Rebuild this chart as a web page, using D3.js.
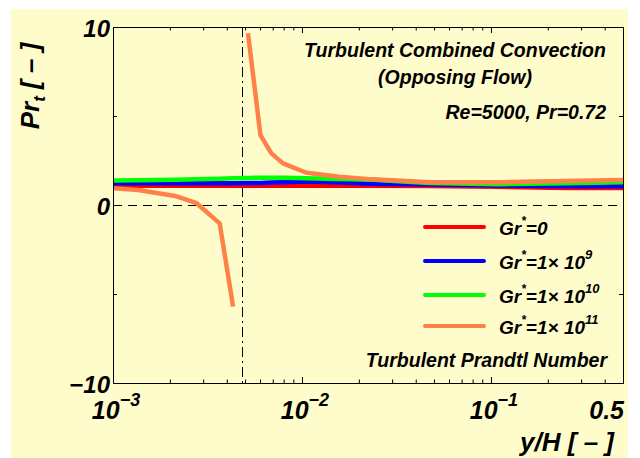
<!DOCTYPE html>
<html>
<head>
<meta charset="utf-8">
<script src="https://cdn.jsdelivr.net/npm/d3@7"></script>
<style>
  body { margin: 0; background: #fff; }
  text { font-family: "Liberation Sans", Arial, sans-serif; font-weight: bold; font-style: italic; fill: #000; }
</style>
</head>
<body>
<svg id="chart" width="640" height="458"></svg>
<script>
// wall distance y/H, shared by all four series
const yH = [0.001, 0.00136, 0.00213, 0.00277, 0.00367, 0.00432, 0.00518, 0.00603, 0.00689, 0.00794, 0.01055, 0.0158, 0.0236, 0.0473, 0.11, 0.25, 0.5];
// turbulent Prandtl number for each Gr*
const prGr0 = [1.08, 1.08, 1.08, 1.08, 1.08, 1.08, 1.08, 1.08, 1.08, 1.08, 1.08, 1.08, 1.08, 1.07, 1.02, 0.95, 0.95];
const prGr9 = [1.22, 1.22, 1.22, 1.22, 1.22, 1.22, 1.23, 1.24, 1.26, 1.28, 1.32, 1.27, 1.2, 1.15, 1.1, 1.06, 1.06];
const prGr10 = [1.37, 1.39, 1.42, 1.45, 1.48, 1.5, 1.52, 1.53, 1.53, 1.53, 1.5, 1.46, 1.42, 1.24, 1.17, 1.22, 1.28];
const prGr11 = [0.94, 0.84, 0.51, 0.1, -1.03, -5.71, 9.65, 3.93, 2.9, 2.34, 1.81, 1.59, 1.44, 1.28, 1.28, 1.35, 1.4];
// Gr*=1e11 jumps across a pole after this index
const poleIndex = 5;
const poleYH = 0.0048;

const seriesNames = ["0", "9", "10", "11"];
const seriesColors = ["#ff0000", "#0000ff", "#00ff00", "#ff8048"];
const seriesValues = [prGr0, prGr9, prGr10, prGr11];

const xMajor = [0.001, 0.01, 0.1];
const xMajorExp = ["\u22123", "\u22122", "\u22121"];
const yMajor = [10, 0, -10];
const yMajorLabels = ["10", "0", "\u221210"];
const yMinor = [5, -5];

var svg = d3.select("#chart");

// yellow panel behind the chart
svg.append("rect")
  .attr("x", 11).attr("y", 9)
  .attr("width", 617).attr("height", 449)
  .attr("fill", "#fffccc");

var xScale = d3.scaleLog().domain([0.001, 0.5]).range([113, 623]);
var yScale = d3.scaleLinear().domain([-10, 10]).range([383, 27]);

// minor ticks on the log axis: 2..9 of every decade
var xMinor = [];
[0.001, 0.01, 0.1].forEach(function (d) {
  for (let k = 2; k <= 9; k++) {
    if (d * k < 0.5) xMinor.push(d * k);
  }
});

svg.append("defs").append("clipPath").attr("id", "plotClip")
  .append("rect")
  .attr("x", 113).attr("y", 27)
  .attr("width", 510).attr("height", 356);

// reference lines, kept on the pixel grid so they stay sharp
var zeroY = Math.round(yScale(0)) + 0.5;
var poleX = Math.round(xScale(poleYH)) + 0.5;
svg.append("line")
  .attr("x1", 113).attr("x2", 623)
  .attr("y1", zeroY).attr("y2", zeroY)
  .attr("stroke", "#000").attr("stroke-width", 1)
  .attr("stroke-dasharray", "9,6");
svg.append("line")
  .attr("x1", poleX).attr("x2", poleX)
  .attr("y1", 27).attr("y2", 383)
  .attr("stroke", "#000").attr("stroke-width", 1)
  .attr("stroke-dasharray", "10,4,2,4");

// curves
var line = d3.line()
  .x(function (d) { return xScale(d.x); })
  .y(function (d) { return yScale(d.y); });

var curves = svg.append("g").attr("clip-path", "url(#plotClip)");
seriesValues.forEach(function (vals, s) {
  let pts = yH.map(function (x, i) { return { x: x, y: vals[i] }; });
  let parts = s === 3 ? [pts.slice(0, poleIndex + 1), pts.slice(poleIndex + 1)] : [pts];
  parts.forEach(function (p) {
    curves.append("path")
      .attr("d", line(p))
      .attr("fill", "none")
      .attr("stroke", seriesColors[s])
      .attr("stroke-width", 4.5)
      .attr("stroke-linejoin", "round");
  });
});

// frame with inward ticks
var bottomAxis = svg.append("g").attr("transform", "translate(0,383)");
bottomAxis.call(d3.axisBottom(xScale).tickValues(xMajor).tickSize(-6).tickFormat("").tickSizeOuter(0));
bottomAxis.append("g").call(d3.axisBottom(xScale).tickValues(xMinor).tickSize(-3.5).tickFormat("").tickSizeOuter(0));
var topAxis = svg.append("g").attr("transform", "translate(0,27)");
topAxis.call(d3.axisTop(xScale).tickValues(xMajor).tickSize(-6).tickFormat("").tickSizeOuter(0));
topAxis.append("g").call(d3.axisTop(xScale).tickValues(xMinor).tickSize(-3.5).tickFormat("").tickSizeOuter(0));
var leftAxis = svg.append("g").attr("transform", "translate(113,0)");
leftAxis.call(d3.axisLeft(yScale).tickValues(yMinor).tickSize(-4).tickFormat("").tickSizeOuter(0));
var rightAxis = svg.append("g").attr("transform", "translate(623,0)");
rightAxis.call(d3.axisRight(yScale).tickValues(yMinor).tickSize(-4).tickFormat("").tickSizeOuter(0));
svg.selectAll(".domain").attr("stroke", "#000").attr("stroke-width", 1);
svg.selectAll(".tick line").attr("stroke", "#000");

// y tick labels
yMajor.forEach(function (v, i) {
  svg.append("text")
    .attr("x", 110).attr("y", yScale(v) + 10)
    .attr("text-anchor", "end")
    .attr("font-size", "24px")
    .text(yMajorLabels[i]);
});

// x tick labels, powers of ten
xMajor.forEach(function (v, i) {
  let t = svg.append("text")
    .attr("x", xScale(v) + 3).attr("y", 419)
    .attr("text-anchor", "middle")
    .attr("font-size", "25px");
  t.append("tspan").text("10");
  t.append("tspan").attr("dy", -13).attr("font-size", "18px").text(xMajorExp[i]);
});
svg.append("text")
  .attr("x", 624).attr("y", 419)
  .attr("text-anchor", "end")
  .attr("font-size", "25px")
  .text("0.5");

// axis titles
svg.append("text")
  .attr("x", 614).attr("y", 451)
  .attr("text-anchor", "end")
  .attr("font-size", "26px")
  .text("y/H [ \u2013 ]");

var yTitle = svg.append("text")
  .attr("transform", "translate(39,86) rotate(-90)")
  .attr("text-anchor", "middle")
  .attr("font-size", "26px");
yTitle.append("tspan").text("Pr");
yTitle.append("tspan").attr("dy", 6).attr("font-size", "17px").text("t");
yTitle.append("tspan").attr("dy", -6).text(" [ \u2013 ]");

// annotations
svg.append("text").attr("x", 455).attr("y", 57)
  .attr("text-anchor", "middle").attr("font-size", "19.5px")
  .text("Turbulent Combined Convection");
svg.append("text").attr("x", 455).attr("y", 84)
  .attr("text-anchor", "middle").attr("font-size", "19.5px")
  .text("(Opposing Flow)");
svg.append("text").attr("x", 606).attr("y", 119)
  .attr("text-anchor", "end").attr("font-size", "19.5px")
  .text("Re=5000, Pr=0.72");
svg.append("text").attr("x", 607).attr("y", 367)
  .attr("text-anchor", "end").attr("font-size", "19.5px")
  .text("Turbulent Prandtl Number");

// legend
var legendY = [227, 261, 295, 326];
seriesNames.forEach(function (n, i) {
  svg.append("line")
    .attr("x1", 425).attr("x2", 484)
    .attr("y1", legendY[i]).attr("y2", legendY[i])
    .attr("stroke", seriesColors[i])
    .attr("stroke-width", 4)
    .attr("stroke-linecap", "round");
  let t = svg.append("text")
    .attr("x", 499).attr("y", legendY[i] + 8)
    .attr("font-size", "19px");
  t.append("tspan").text("Gr");
  t.append("tspan").attr("dy", -10).attr("font-size", "12px").text("*");
  if (n === "0") {
    t.append("tspan").attr("dy", 10).text("=0");
  } else {
    t.append("tspan").attr("dy", 10).text("=1\u00d7 10");
    t.append("tspan").attr("dy", -10).attr("font-size", "13px").text(n);
  }
});
</script>
</body>
</html>
